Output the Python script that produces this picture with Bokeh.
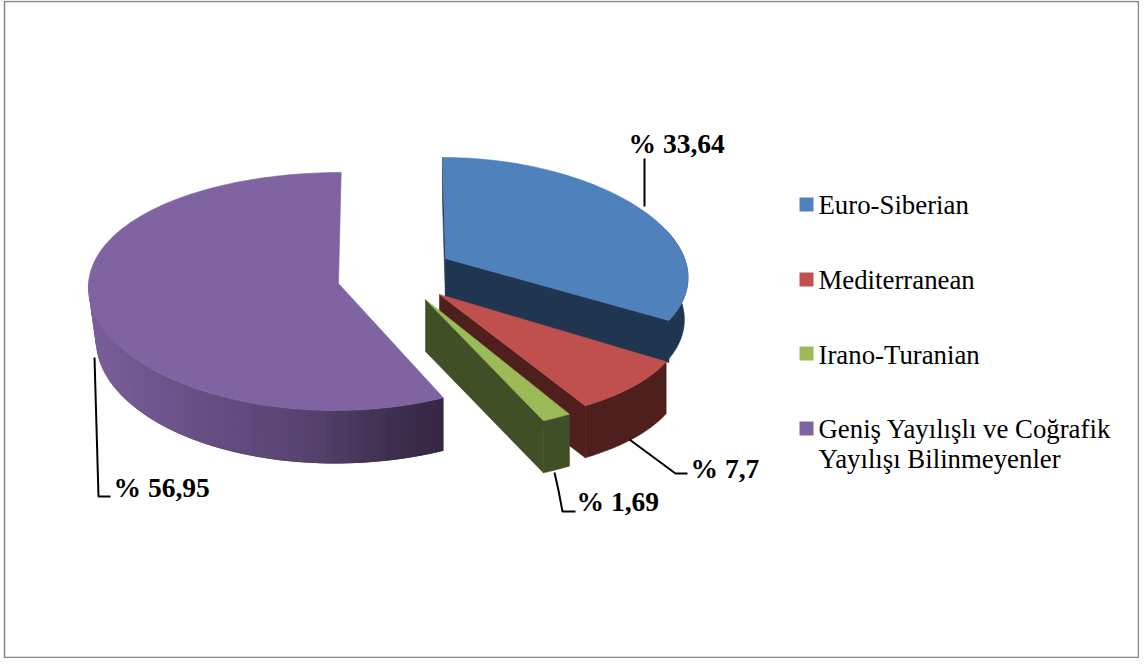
import numpy as np
from bokeh.core.properties import value
from bokeh.embed import file_html
from bokeh.models import Range1d
from bokeh.plotting import figure
from bokeh.resources import INLINE

# --- data ---
categories = ["Euro-Siberian", "Mediterranean", "Irano-Turanian",
              "Geniş Yayılışlı ve Coğrafik\nYayılışı Bilinmeyenler"]
shares = [33.64, 7.7, 1.69, 56.95]
share_labels = ["% 33,64", "% 7,7", "% 1,69", "% 56,95"]

# --- styles and layout ---
TOP = ["#4f81bd", "#c0504d", "#9bbb59", "#8064a2"]
DARK = ["#1f3550", "#4f1f1d", "#404f25", "#35283f"]
FONT = value("Liberation Serif")
W, H = 1139, 658
OX, OY = 0, 0

# apex x, apex y, R, k, R2, m, shear, depth
PROJ = [
    (445, 258, 239, 0.16, 113.5, 0.11, 0.03, 42),
    (439, 294, 239, 0.208, 130, 0.0, 0.0, 52),
    (425, 299, 278, 0.0, 134, 0.0, 0.0, 52),
    (338, 283, 250, 0.02, 119, 0.067, -0.027, 53),
]


def project(i, deg):
    ax, ay, R, k, R2, m, shear, _ = PROJ[i]
    t = np.radians(deg)
    s, f = np.sin(t), -np.cos(t)
    Y = R2 * f * (1 + m * f)
    X = R * s * (1 + k * f) + shear * Y
    return ax + X, ay + Y


edges = np.concatenate([[0], np.cumsum(shares)]) * 3.6

p = figure(width=W, height=H, x_range=Range1d(OX, OX + W), y_range=Range1d(OY + H, OY),
           output_backend="svg", toolbar_location=None, min_border=0,
           background_fill_color="white", border_fill_color="white")
p.axis.visible = False
p.grid.visible = False
p.outline_line_color = None

p.quad(left=[4], right=[1138], top=[1], bottom=[657], fill_color=None,
       line_color="#868686", line_width=1.5)


def poly(xs, ys, color, lw=0.6):
    p.patch(list(xs), list(ys), fill_color=color, line_color=color if lw else None, line_width=lw)


def shade(t):
    stops = [(0.0, (122, 94, 154)), (0.3, (104, 80, 133)), (0.6, (88, 67, 112)),
             (0.85, (62, 47, 78)), (1.0, (53, 40, 66))]
    for (a, ca), (b, cb) in zip(stops, stops[1:]):
        if t <= b:
            q = (t - a) / (b - a)
            return "#%02x%02x%02x" % tuple(int(u + q * (v - u)) for u, v in zip(ca, cb))
    return "#35283f"


def lower(rx, ax, d, ry, inset):
    return ax + (rx - ax) * np.where(rx > ax + 200, inset, 1.0), ry + d


# slices drawn back to front: blue, red, green, then purple
for i in range(3):
    a0, a1 = edges[i], edges[i + 1]
    ax, ay, *_, d = PROJ[i]
    ex, ey = project(i, a1)
    if i == 0:
        sx, sy = project(i, a0)
        poly([sx, sx, ax, ax], [sy, sy + d, ay + d, ay], DARK[i])
    poly([ax, ex, ex, ax], [ay, ey, ey + d, ay + d], DARK[i])
    start = max(a0, 75)
    ang = np.linspace(start, a1, 50)
    rx, ry = project(i, ang)
    bx, by = lower(rx, ax, d, ry, 0.985 if i == 0 else 1.0)
    poly(np.r_[rx, bx[::-1]], np.r_[ry, by[::-1]], DARK[i])
    ang = np.linspace(a0, a1, 90)
    rx, ry = project(i, ang)
    poly(np.r_[ax, rx], np.r_[ay, ry], TOP[i])

# purple wedge: rim with horizontal shading
a0, a1 = edges[3], edges[4]
ax, ay, *_, d = PROJ[3]
ang = np.linspace(272, a0, 70)
rx, ry = project(3, ang)
# lower outline closes in towards the far left
inset = 1 - 0.03 * np.clip((ax - rx) / 250, 0, 1)
bx = ax + (rx - ax) * inset
by = ry + d
xmin, xmax = rx.min(), rx.max()
for j in range(len(ang) - 1):
    t = (rx[j] - xmin) / (xmax - xmin)
    k2 = min(j + 2, len(ang) - 1)
    poly([rx[j], rx[k2], bx[k2], bx[j]], [ry[j], ry[k2], by[k2], by[j]], shade(t), lw=0)
ang = np.linspace(a0, a1, 160)
rx, ry = project(3, ang)
poly(np.r_[ax, rx], np.r_[ay, ry], TOP[3])

# leader lines
p.multi_line(
    xs=[[644, 644], [629, 675, 687], [554, 558, 562, 575], [94, 98, 110]],
    ys=[[158, 206], [439, 473, 473], [472, 490, 511, 511], [357, 496, 496]],
    line_color="black", line_width=2,
)

# data labels
p.text(x=[628, 690, 576, 113], y=[143, 468, 501, 487], text=share_labels,
       text_font=FONT, text_font_style="bold", text_font_size="27.5px",
       text_color="black", text_baseline="alphabetic")

# legend
p.quad(left=[799] * 4, right=[813] * 4, top=[197, 272, 346, 421],
       bottom=[211, 286, 360, 435], fill_color=TOP, line_color=None)
leg_text, leg_y = [], []
for name, y in zip(categories, [204, 279, 354, 428]):
    for n, part in enumerate(name.split("\n")):
        leg_text.append(part)
        leg_y.append(y + 30 * n)
p.text(x=[818] * len(leg_text), y=leg_y, text=leg_text, text_font=FONT,
       text_font_size="26.8px", text_color="black", text_baseline="alphabetic")

open("out.html", "w").write(file_html(p, INLINE))
